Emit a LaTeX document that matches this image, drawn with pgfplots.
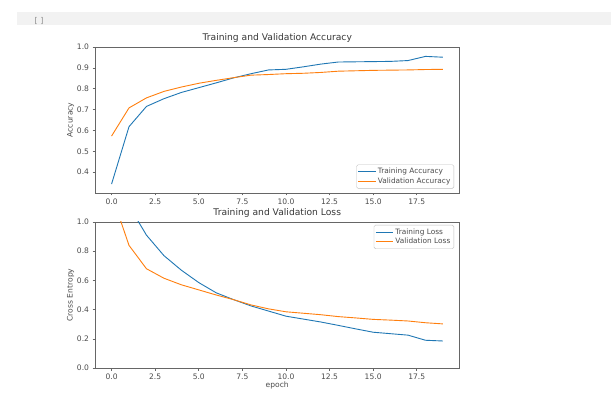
\documentclass[border=0pt]{standalone}
\usepackage{pgfplots}
\pgfplotsset{compat=1.18}
\usepackage{fontspec}
\setmainfont{DejaVu Sans}
\definecolor{mblue}{HTML}{1F77B4}
\definecolor{morange}{HTML}{FF7F0E}
\pgfplotsset{
  common/.style={
    scale only axis, width=364.5bp, height=146bp,
    xmin=-0.95, xmax=19.95,
    xtick={0,2.5,5,7.5,10,12.5,15,17.5},
    /pgf/number format/fixed,
    /pgf/number format/fixed zerofill,
    /pgf/number format/precision=1,
    /pgf/number format/assume math mode=true,
    tick label style={font=\fontsize{7.6}{8.5}\selectfont, text=black!70},
    label style={font=\fontsize{7.6}{8.5}\selectfont, text=black!70},
    title style={font=\fontsize{9.2}{10}\selectfont, text=black!78, yshift=-4.5bp},
    axis line style={black!60, line width=0.6bp},
    tick style={black!60, line width=0.6bp},
    tick align=outside, major tick length=2.5bp,
    xtick pos=bottom, ytick pos=left,
    legend style={font=\fontsize{7.4}{8}\selectfont, draw=black!25, rounded corners=1.5bp, text=black!70, inner sep=1.5bp, row sep=-1.5bp},
    legend cell align=left,
    every axis plot/.append style={line width=0.9bp},
  }
}
\begin{document}
\begin{tikzpicture}[x=1bp,y=1bp]
\fill[white] (0,0) rectangle (611,392);
\fill[black!5] (17,367) rectangle (611,380);
\node[font=\fontsize{8}{9}\selectfont, text=black!45] at (39,371) {[ ]};
\begin{axis}[common, at={(95bp,199bp)}, anchor=south west,
  ymin=0.30, ymax=1.0, ytick={0.4,0.5,0.6,0.7,0.8,0.9,1.0},
  title={Training and Validation Accuracy},
  ylabel={Accuracy}, ylabel style={yshift=-4bp},
  legend pos=south east, legend style={at={(0.985,0.03)}}]
\addplot[mblue] coordinates {(0,0.343)(1,0.618)(2,0.715)(3,0.752)(4,0.782)(5,0.805)(6,0.828)(7,0.852)(8,0.872)(9,0.890)(10,0.893)(11,0.905)(12,0.918)(13,0.928)(14,0.929)(15,0.930)(16,0.931)(17,0.935)(18,0.955)(19,0.951)};
\addlegendentry{Training Accuracy}
\addplot[morange] coordinates {(0,0.573)(1,0.708)(2,0.756)(3,0.787)(4,0.808)(5,0.826)(6,0.840)(7,0.853)(8,0.865)(9,0.868)(10,0.872)(11,0.874)(12,0.878)(13,0.884)(14,0.886)(15,0.888)(16,0.889)(17,0.890)(18,0.892)(19,0.893)};
\addlegendentry{Validation Accuracy}
\end{axis}
\begin{axis}[common, at={(95bp,24bp)}, anchor=south west,
  ymin=0, ymax=1.0, ytick={0,0.2,0.4,0.6,0.8,1.0},
  title={Training and Validation Loss},
  ylabel={Cross Entropy}, ylabel style={yshift=-4bp},
  xlabel={epoch}, xlabel style={yshift=5bp},
  legend pos=north east, legend style={at={(0.985,0.98)}}]
\addplot[mblue] coordinates {(0,1.9)(1,1.11)(2,0.91)(3,0.77)(4,0.67)(5,0.585)(6,0.515)(7,0.468)(8,0.425)(9,0.39)(10,0.355)(11,0.335)(12,0.315)(13,0.292)(14,0.268)(15,0.245)(16,0.235)(17,0.225)(18,0.19)(19,0.185)};
\addlegendentry{Training Loss}
\addplot[morange] coordinates {(0,1.19)(1,0.84)(2,0.68)(3,0.615)(4,0.57)(5,0.535)(6,0.50)(7,0.468)(8,0.432)(9,0.405)(10,0.385)(11,0.375)(12,0.365)(13,0.352)(14,0.343)(15,0.333)(16,0.328)(17,0.322)(18,0.310)(19,0.302)};
\addlegendentry{Validation Loss}
\end{axis}
\end{tikzpicture}
\end{document}
